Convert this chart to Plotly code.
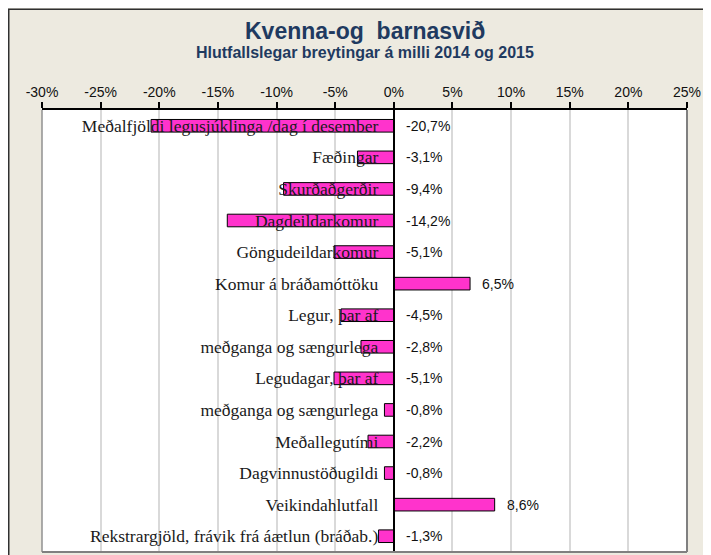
import plotly.graph_objects as go

categories = [
    "Meðalfjöldi legusjúklinga /dag í desember",
    "Fæðingar",
    "Skurðaðgerðir",
    "Dagdeildarkomur",
    "Göngudeildarkomur",
    "Komur á bráðamóttöku",
    "Legur, þar af",
    "meðganga og sængurlega",
    "Legudagar, þar af",
    "meðganga og sængurlega",
    "Meðallegutími",
    "Dagvinnustöðugildi",
    "Veikindahlutfall",
    "Rekstrargjöld, frávik frá áætlun (bráðab.)",
]
values = [-20.7, -3.1, -9.4, -14.2, -5.1, 6.5, -4.5, -2.8, -5.1, -0.8, -2.2, -0.8, 8.6, -1.3]
x_ticks = [-30, -25, -20, -15, -10, -5, 0, 5, 10, 15, 20, 25]

title = "Kvenna-og  barnasvið"
subtitle = "Hlutfallslegar breytingar á milli 2014 og 2015"

# figure placed at (8,8) in the page by the default body margin
W, H = 703, 547
ML, MR, MT, MB = 34, 24, 102, 3
PW, PH = W - ML - MR, H - MT - MB

def px_x(p):
    return (p - ML) / PW

def px_y(p):
    return (H - MB - p) / PH

pos = list(range(len(categories)))
bounds = [p - 0.5 for p in pos] + [pos[-1] + 0.5]
xmin, xmax = x_ticks[0], x_ticks[-1]
zero_pos = (0 - xmin) / (xmax - xmin)

fig = go.Figure()
fig.add_trace(go.Bar(
    x=values, y=pos, orientation="h", width=0.4,
    marker=dict(color="#FF33CC", line=dict(color="#000000", width=1)),
    hoverinfo="skip",
))

annotations = []
for v, p in zip(values, pos):
    annotations.append(dict(
        x=max(v, 0), y=p, xref="x", yref="y",
        text=f"{v:.1f}".replace(".", ",") + "%",
        showarrow=False, xanchor="left", yanchor="middle", xshift=10,
        font=dict(family="Liberation Sans, Arial", size=14, color="#111111"),
    ))
annotations.append(dict(
    x=0.5, y=px_y(23), xref="paper", yref="paper", text=f"<b>{title}</b>",
    showarrow=False, xanchor="center", yanchor="middle",
    font=dict(family="Liberation Sans, Arial", size=23, color="#1F3A60"),
))
annotations.append(dict(
    x=0.5, y=px_y(44), xref="paper", yref="paper", text=f"<b>{subtitle}</b>",
    showarrow=False, xanchor="center", yanchor="middle",
    font=dict(family="Liberation Sans, Arial", size=16, color="#1F3A60"),
))

shapes = [
    # chart box border (left and top)
    dict(type="line", xref="paper", yref="paper", x0=px_x(0.75), x1=px_x(0.75),
         y0=px_y(H + 5), y1=px_y(1), line=dict(color="#303030", width=1.5), layer="above"),
    dict(type="line", xref="paper", yref="paper", x0=px_x(0), x1=px_x(W + 5),
         y0=px_y(1.25), y1=px_y(1.25), line=dict(color="#303030", width=1.5), layer="above"),
    # plot border (left, right, bottom)
    dict(type="line", xref="paper", yref="paper", x0=0, x1=0, y0=0, y1=1,
         line=dict(color="#909090", width=1.5), layer="above"),
    dict(type="line", xref="paper", yref="paper", x0=1, x1=1, y0=0, y1=1,
         line=dict(color="#808080", width=2), layer="above"),
    dict(type="line", xref="paper", yref="paper", x0=0, x1=1, y0=0, y1=0,
         line=dict(color="#808080", width=2), layer="above"),
]

fig.update_layout(
    width=W, height=H,
    margin=dict(l=ML, r=MR, t=MT, b=MB),
    paper_bgcolor="#EDEAE0",
    plot_bgcolor="#FFFFFF",
    showlegend=False,
    annotations=annotations,
    shapes=shapes,
    xaxis=dict(
        side="top", range=[xmin, xmax], tickmode="array", tickvals=x_ticks,
        ticktext=[f"{t}%" for t in x_ticks], showgrid=True, gridcolor="#D9D9D9", gridwidth=1.5,
        zeroline=False, showline=True, linecolor="#000000", linewidth=1.5,
        ticks="outside", ticklen=6, tickcolor="#000000", tickwidth=1.5,
        tickfont=dict(family="Liberation Sans, Arial", size=14, color="#111111"),
        fixedrange=True,
    ),
    yaxis=dict(
        range=[len(categories) - 0.5, -0.5], tickmode="array", tickvals=pos,
        ticktext=categories, anchor="free", position=zero_pos,
        showgrid=False, zeroline=False, showline=True, linecolor="#000000",
        linewidth=2, ticks="", ticklabelstandoff=11,
        tickfont=dict(family="Liberation Serif, Times New Roman", size=17.5, color="#1A1A1A"),
        fixedrange=True,
    ),
    yaxis2=dict(
        overlaying="y", range=[len(categories) - 0.5, -0.5], tickmode="array",
        tickvals=bounds, ticktext=["" for _ in bounds], anchor="free", position=zero_pos,
        showgrid=False, zeroline=False, showline=False, showticklabels=False,
        ticks="outside", ticklen=4, tickcolor="#000000", tickwidth=2, fixedrange=True,
    ),
)

fig.write_html("out.html")
